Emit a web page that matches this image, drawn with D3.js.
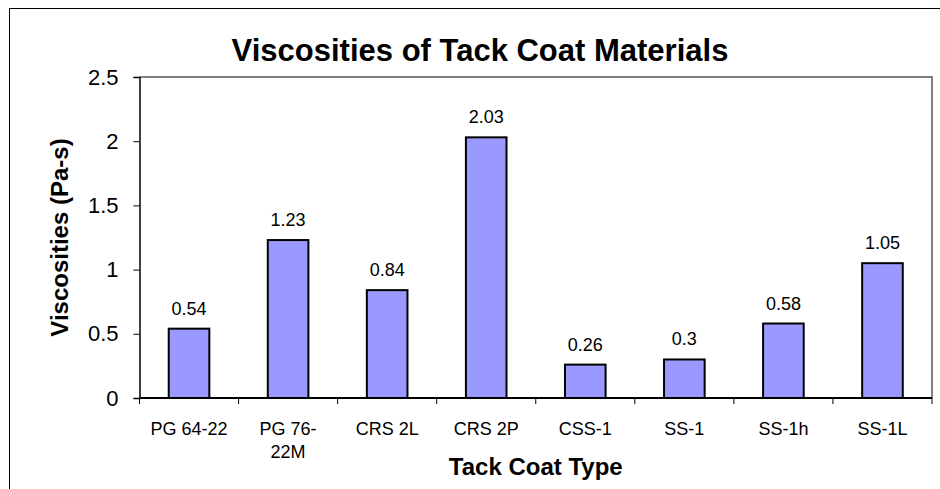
<!DOCTYPE html>
<html>
<head>
<meta charset="utf-8">
<script src="https://cdn.jsdelivr.net/npm/d3@7"></script>
<style>
	html, body { margin: 0; padding: 0; background: #fff; }
	svg { display: block; font-family: "Liberation Sans", Arial, sans-serif; }
</style>
</head>
<body>
<svg id="chart" width="940" height="489"></svg>
<script>
	const categories = ["PG 64-22", "PG 76-\n22M", "CRS 2L", "CRS 2P", "CSS-1", "SS-1", "SS-1h", "SS-1L"];
	const viscosities = [0.54, 1.23, 0.84, 2.03, 0.26, 0.3, 0.58, 1.05];
	const yTicks = [0, 0.5, 1, 1.5, 2, 2.5];

	const width = 940;
	const height = 489;
	const plot = { left: 139.5, right: 932, top: 77, bottom: 398 };

	const svg = d3.select("#chart");

	// outer chart frame (right/bottom edges fall outside the picture)
	svg.append("rect")
		.attr("x", 9.5)
		.attr("y", 8.5)
		.attr("width", width)
		.attr("height", height)
		.attr("fill", "none")
		.attr("stroke", "#000")
		.attr("stroke-width", 1);

	const x = d3.scaleBand()
		.domain(categories)
		.range([plot.left, plot.right])
		.padding(0);

	const y = d3.scaleLinear()
		.domain([0, 2.5])
		.range([plot.bottom, plot.top]);

	// plot area border: grey top and right
	svg.append("path")
		.attr("d", `M${plot.left},${plot.top}H${plot.right}V${plot.bottom}`)
		.attr("fill", "none")
		.attr("stroke", "#808080")
		.attr("stroke-width", 2);

	// bars
	const barW = x.bandwidth() * 0.41;
	svg.append("g")
		.selectAll("rect")
		.data(viscosities)
		.join("rect")
		.attr("x", (d, i) => x(categories[i]) + (x.bandwidth() - barW) / 2)
		.attr("y", (d) => y(d))
		.attr("width", barW)
		.attr("height", (d) => y(0) - y(d))
		.attr("fill", "#9999ff")
		.attr("stroke", "#000")
		.attr("stroke-width", 2);

	// value labels
	svg.append("g")
		.selectAll("text")
		.data(viscosities)
		.join("text")
		.attr("x", (d, i) => x(categories[i]) + x.bandwidth() / 2)
		.attr("y", (d) => y(d) - 14)
		.attr("text-anchor", "middle")
		.attr("font-size", 18)
		.attr("fill", "#000")
		.text((d) => d);

	// y axis
	const yAxis = svg.append("g")
		.attr("transform", `translate(${plot.left},0)`)
		.call(d3.axisLeft(y).tickValues(yTicks).tickSize(6).tickPadding(15).tickFormat((d) => d));
	yAxis.select(".domain").attr("stroke", "#000").attr("stroke-width", 1.5);
	yAxis.selectAll(".tick line").attr("stroke", "#000").attr("stroke-width", 1);
	yAxis.selectAll(".tick text")
		.attr("font-size", 22)
		.attr("font-family", "Liberation Sans, Arial, sans-serif")
		.attr("fill", "#000");

	// x axis: ticks at band boundaries
	const xAxis = svg.append("g").attr("transform", `translate(0,${plot.bottom})`);
	xAxis.append("line")
		.attr("x1", plot.left)
		.attr("x2", plot.right)
		.attr("stroke", "#000")
		.attr("stroke-width", 2);
	const bounds = categories.map((c) => x(c)).concat([plot.right]);
	xAxis.selectAll("line.tick")
		.data(bounds)
		.join("line")
		.attr("class", "tick")
		.attr("x1", (d) => d)
		.attr("x2", (d) => d)
		.attr("y1", 0)
		.attr("y2", 6)
		.attr("stroke", "#000")
		.attr("stroke-width", 1);

	const catText = xAxis.selectAll("text.cat")
		.data(categories)
		.join("text")
		.attr("class", "cat")
		.attr("text-anchor", "middle")
		.attr("font-size", 18)
		.attr("fill", "#000");
	catText.each(function (d) {
		const lines = d.split("\n");
		const t = d3.select(this);
		lines.forEach((line, i) => {
			t.append("tspan")
				.attr("x", x(d) + x.bandwidth() / 2)
				.attr("y", 37 + i * 23)
				.text(line);
		});
	});

	// titles
	svg.append("text")
		.attr("x", 480)
		.attr("y", 61)
		.attr("text-anchor", "middle")
		.attr("font-size", 31)
		.attr("font-weight", "bold")
		.text("Viscosities of Tack Coat Materials");

	svg.append("text")
		.attr("x", (plot.left + plot.right) / 2)
		.attr("y", 475)
		.attr("text-anchor", "middle")
		.attr("font-size", 24)
		.attr("font-weight", "bold")
		.text("Tack Coat Type");

	svg.append("text")
		.attr("transform", `translate(68,${(plot.top + plot.bottom) / 2}) rotate(-90)`)
		.attr("text-anchor", "middle")
		.attr("font-size", 24)
		.attr("font-weight", "bold")
		.text("Viscosities (Pa-s)");
</script>
</body>
</html>
